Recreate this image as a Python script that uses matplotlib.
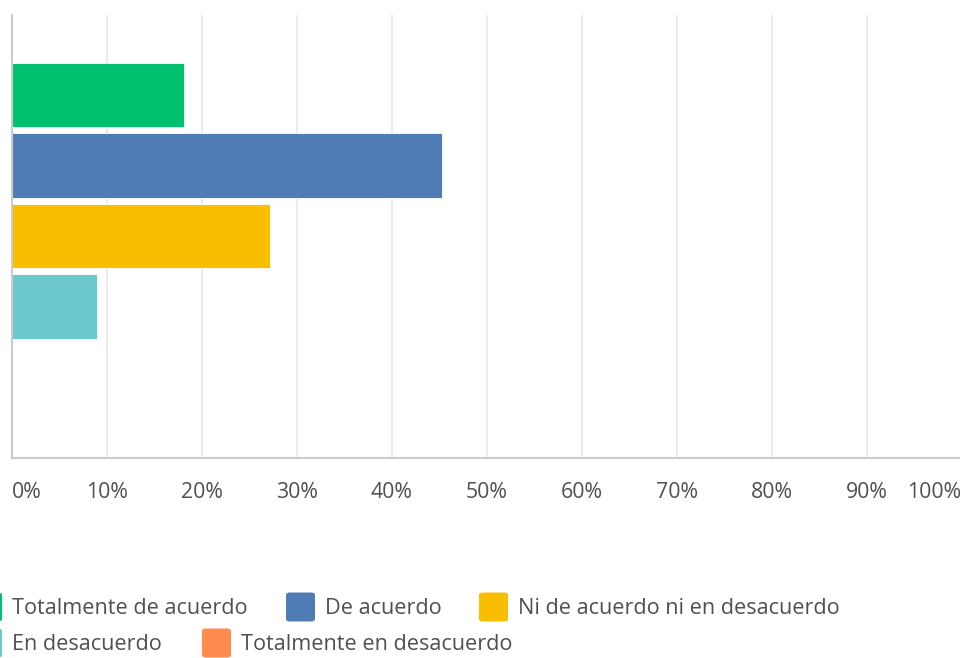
import matplotlib

matplotlib.use("Agg")
import matplotlib.pyplot as plt
from matplotlib.patches import FancyBboxPatch

plt.rcParams["font.family"] = ["Open Sans", "DejaVu Sans"]

# Answer options, top to bottom, with share of respondents (%)
answers = [
    "Totalmente de acuerdo",
    "De acuerdo",
    "Ni de acuerdo ni en desacuerdo",
    "En desacuerdo",
    "Totalmente en desacuerdo",
]
shares = [18.1, 45.3, 27.2, 9.0, 0.0]
colors = ["#00bf6f", "#507cb6", "#f9be00", "#6bc8cd", "#ff8b4f"]
ticks = [0, 10, 20, 30, 40, 50, 60, 70, 80, 90, 100]
tick_labels = [f"{t}%" for t in ticks]

W, H = 960, 658
fig = plt.figure(figsize=(W / 100, H / 100), dpi=100)
ax = fig.add_axes([11.7 / W, 200 / H, 950 / W, 443 / H])

ypos = list(range(len(answers)))
edge_w = [0.6 if s > 0 else 0 for s in shares]
ax.barh(ypos, shares, height=0.91, color=colors,
        edgecolor="white", linewidth=edge_w, zorder=3)

ax.set_xlim(0, 100)
ax.set_ylim(4 + 1.15, -1.135)
ax.set_yticks([])
ax.set_xticks(ticks)
ax.set_xticklabels(tick_labels, fontsize=15.3, color="#505050")
ax.tick_params(axis="x", length=0, pad=17)
labels = ax.get_xticklabels()
labels[0].set_ha("left")
labels[-1].set_ha("right")

ax.grid(axis="x", color="#e9e9e9", linewidth=1.3, zorder=0)
for side in ("top", "right"):
    ax.spines[side].set_visible(False)
for side in ("left", "bottom"):
    ax.spines[side].set_color("#cccccc")
    ax.spines[side].set_linewidth(1.5)
    ax.spines[side].set_zorder(4)

# Legend drawn by hand in pixel coordinates; the first column sits
# partly off the left edge of the canvas
legend_rows = [
    [(-27, 0), (286, 1), (479, 2)],
    [(-27, 3), (202, 4)],
]
row_y = [607, 643]
sw = 29
for row, yc in zip(legend_rows, row_y):
    for x0, idx in row:
        box = FancyBboxPatch(
            (x0 / W, (H - yc - sw / 2) / H), sw / W, sw / H,
            boxstyle="round,pad=0,rounding_size=0.004",
            transform=fig.transFigure, facecolor=colors[idx],
            edgecolor="none", clip_on=False,
        )
        fig.patches.append(box)
        fig.text((x0 + sw + 10) / W, (H - yc - 2) / H, answers[idx],
                 fontsize=15.6, color="#505050", va="center", ha="left")

fig.savefig("out.png", dpi=100)
